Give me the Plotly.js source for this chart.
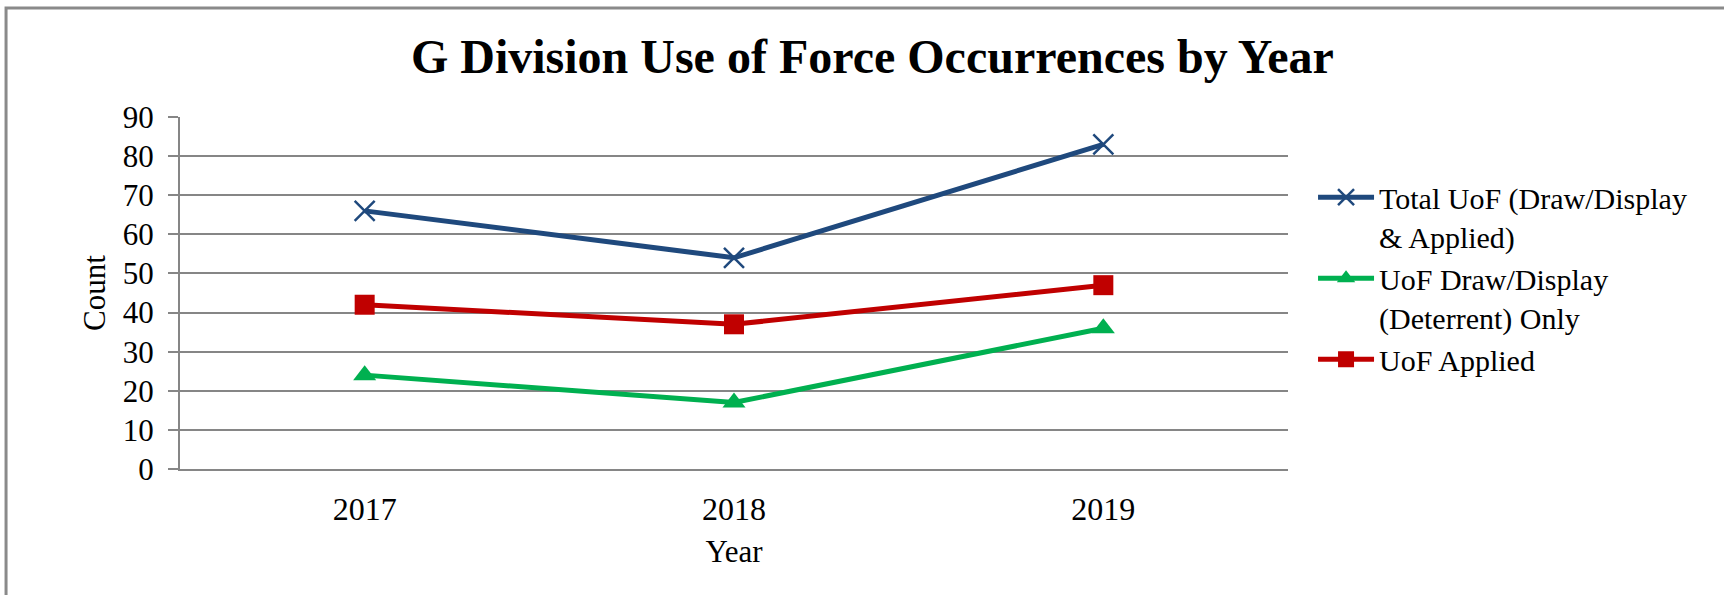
<!DOCTYPE html>
<html>
<head>
<meta charset="utf-8">
<script src="https://cdn.plot.ly/plotly-3.0.1.min.js"></script>
<style>html,body{margin:0;padding:0;background:#fff;} #chart{width:1724px;height:595px;}</style>
</head>
<body>
<div id="chart"></div>
<script>
const years = ["2017", "2018", "2019"];
const totalUoF = [66, 54, 83];
const drawDisplayOnly = [24, 17, 36];
const uofApplied = [42, 37, 47];
const yTicks = [0, 10, 20, 30, 40, 50, 60, 70, 80, 90];

const FONT = "'Times New Roman', 'Liberation Serif', serif";
const GRID = "#868686";

const traces = [
  {
    x: years, y: totalUoF, type: "scatter", mode: "lines+markers",
    name: "Total UoF (Draw/Display<br>& Applied)",
    line: {color: "#1F497D", width: 5},
    marker: {symbol: "x-thin-open", size: 20, color: "#1F497D", line: {color: "#1F497D", width: 2.5}}
  },
  {
    x: years, y: drawDisplayOnly, type: "scatter", mode: "lines+markers",
    name: "UoF Draw/Display<br>(Deterrent) Only",
    line: {color: "#00B050", width: 5},
    marker: {symbol: "triangle-up", size: 20, color: "#00B050"}
  },
  {
    x: years, y: uofApplied, type: "scatter", mode: "lines+markers",
    name: "UoF Applied",
    line: {color: "#C00000", width: 5},
    marker: {symbol: "square", size: 20, color: "#C00000"}
  }
];

const layout = {
  width: 1724, height: 595, autosize: false,
  paper_bgcolor: "#ffffff", plot_bgcolor: "#ffffff",
  margin: {l: 180, r: 436, t: 117, b: 126, autoexpand: false},
  font: {family: FONT, color: "#000000", size: 30},
  title: {
    text: "<b>G Division Use of Force Occurrences by Year</b>",
    font: {family: FONT, size: 48, color: "#000000"},
    xref: "container", x: 0.506, xanchor: "center",
    yref: "container", y: 0.905, yanchor: "middle"
  },
  xaxis: {
    type: "category",
    categoryorder: "array", categoryarray: years,
    range: [-0.5, 2.5],
    showgrid: false, zeroline: false,
    showline: true, linecolor: GRID, linewidth: 2,
    ticks: "", ticklabelstandoff: 11,
    tickfont: {family: FONT, size: 32},
    title: {text: "Year", font: {family: FONT, size: 31}, standoff: 14}
  },
  yaxis: {
    range: [0, 90], tickvals: yTicks, ticktext: yTicks.map(String),
    showgrid: true, gridcolor: GRID, gridwidth: 2,
    zeroline: false,
    showline: true, linecolor: GRID, linewidth: 2,
    ticks: "outside", ticklen: 10, tickwidth: 2, tickcolor: GRID,
    ticklabelstandoff: 8,
    tickfont: {family: FONT, size: 31},
    title: {text: "Count", font: {family: FONT, size: 31}, standoff: 8}
  },
  showlegend: true,
  legend: {
    x: 1.0226, xanchor: "left", y: 0.846, yanchor: "top",
    valign: "top", itemwidth: 56,
    font: {family: FONT, size: 30, color: "#000000"},
    bgcolor: "rgba(0,0,0,0)", borderwidth: 0,
    tracegroupgap: 0
  },
  shapes: [
    {type: "rect", xref: "paper", yref: "paper",
     x0: -0.157, x1: 2, y0: -1, y1: 1.3097,
     line: {color: "#8a8a8a", width: 3}, fillcolor: "rgba(0,0,0,0)", layer: "below"}
  ]
};

Plotly.newPlot("chart", traces, layout, {displayModeBar: false, staticPlot: true});
</script>
</body>
</html>
